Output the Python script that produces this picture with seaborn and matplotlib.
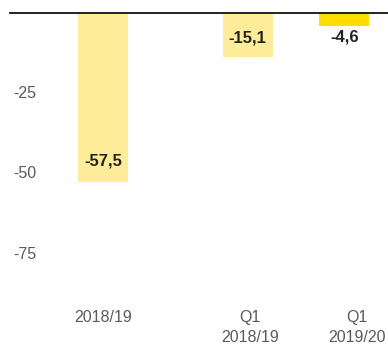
import matplotlib
matplotlib.use("Agg")
import matplotlib.pyplot as plt
import seaborn as sns
import pandas as pd

# Data
categories = ["2018/19", "Q1\n2018/19", "Q1\n2019/20"]
positions = [0.0, 1.5, 2.5]
values = [-57.5, -15.1, -4.6]
bar_colors = ["#FFEC99", "#FFEC99", "#FFDD00"]
xtick_positions = [0.0, 1.52, 2.63]
ytick_labels = ["-25", "-50", "-75"]
ytick_positions = [-27.1, -54.2, -81.4]
label_offsets_pt = [15, 14, -8]

df = pd.DataFrame({"pos": positions, "value": values, "cat": categories})

sns.set_style("white")
plt.rcParams["font.family"] = ["Liberation Sans", "DejaVu Sans"]

fig = plt.figure(figsize=(3.88, 3.44), dpi=100)
ax = fig.add_axes([10 / 388, 44 / 344, 378 / 388, (300 - 12.5) / 344])

sns.barplot(data=df, x="pos", y="value", hue="cat", palette=bar_colors,
            native_scale=True, width=0.518, legend=False, ax=ax,
            saturation=1, linewidth=0, dodge=False)

ax.set_xlim(-0.964, 2.953)
ax.set_ylim(-97.5, 0)

for s in ["left", "right", "bottom"]:
    ax.spines[s].set_visible(False)
ax.spines["top"].set_visible(True)
ax.spines["top"].set_color("#111111")
ax.spines["top"].set_linewidth(1.3)

ax.set_yticks(ytick_positions)
ax.set_yticklabels(ytick_labels)
ax.tick_params(axis="y", length=0, pad=-2, labelsize=11.5, labelcolor="#5a5a5a")
for lab in ax.get_yticklabels():
    lab.set_horizontalalignment("left")

ax.set_xticks(xtick_positions)
ax.set_xticklabels(categories)
ax.tick_params(axis="x", length=0, pad=7.5, labelsize=11.5, labelcolor="#5a5a5a")
for lab in ax.get_xticklabels():
    lab.set_linespacing(1.35)

ax.set_xlabel("")
ax.set_ylabel("")
ax.grid(False)

for x, v, off in zip(positions, values, label_offsets_pt):
    ax.annotate(f"{v:.1f}".replace(".", ","), xy=(x, v), xytext=(0, off),
                textcoords="offset points", ha="center", va="center",
                fontsize=12, fontweight="bold", color="#222222")

fig.savefig("out.png", dpi=100)
